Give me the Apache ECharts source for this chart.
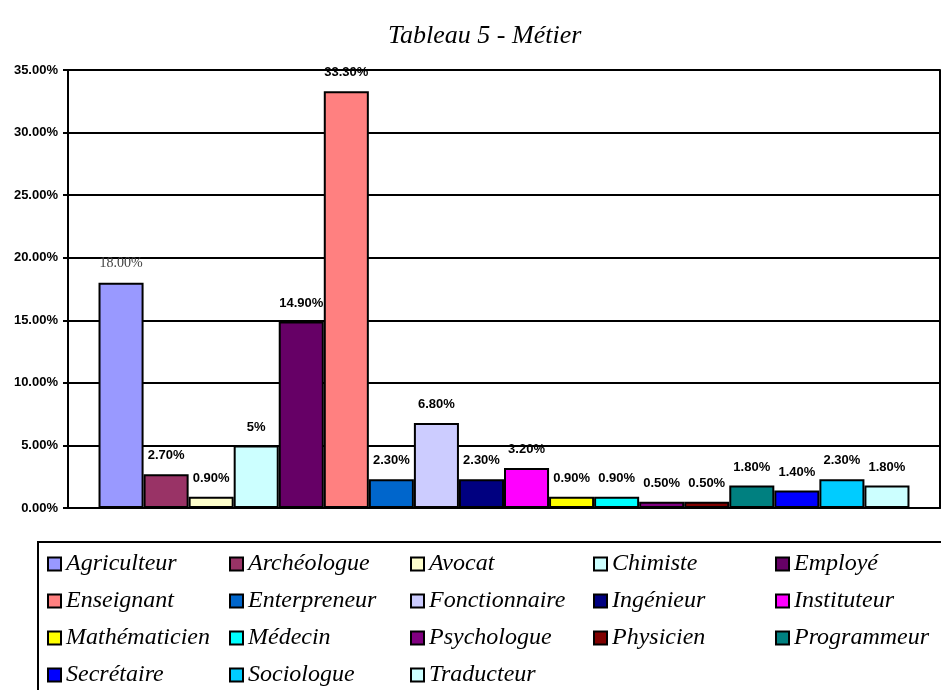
<!DOCTYPE html>
<html>
<head>
<meta charset="utf-8">
<script src="https://cdn.jsdelivr.net/npm/echarts@6/dist/echarts.min.js"></script>
<style>
html, body { margin: 0; padding: 0; background: #fff; }
#chart { width: 941px; height: 690px; }
</style>
</head>
<body>
<div id="chart"></div>
<script>
var chart = echarts.init(document.getElementById('chart'));

// métiers, valeurs en %, étiquettes affichées
var metiers = ['Agriculteur', 'Archéologue', 'Avocat', 'Chimiste', 'Employé',
    'Enseignant', 'Enterpreneur', 'Fonctionnaire', 'Ingénieur', 'Instituteur',
    'Mathématicien', 'Médecin', 'Psychologue', 'Physicien', 'Programmeur',
    'Secrétaire', 'Sociologue', 'Traducteur'];
var valeurs = [18.0, 2.7, 0.9, 5.0, 14.9, 33.3, 2.3, 6.8, 2.3, 3.2,
    0.9, 0.9, 0.5, 0.5, 1.8, 1.4, 2.3, 1.8];
var etiquettes = ['18.00%', '2.70%', '0.90%', '5%', '14.90%', '33.30%', '2.30%',
    '6.80%', '2.30%', '3.20%', '0.90%', '0.90%', '0.50%', '0.50%', '1.80%',
    '1.40%', '2.30%', '1.80%'];
var couleurs = ['#9999FF', '#993366', '#FFFFCC', '#CCFFFF', '#660066',
    '#FF8080', '#0066CC', '#CCCCFF', '#000080', '#FF00FF',
    '#FFFF00', '#00FFFF', '#800080', '#800000', '#008080',
    '#0000FF', '#00CCFF', '#CCFFFF'];
var yTicks = { min: 0, max: 35, interval: 5 };

var series = [];
for (var i = 0; i < metiers.length; i++) {
    var lbl = {
        show: true,
        position: 'top',
        distance: 12,
        formatter: etiquettes[i],
        color: '#000',
        fontFamily: 'Liberation Sans',
        fontWeight: 'bold',
        fontSize: 13
    };
    if (i === 0) {
        lbl.fontFamily = 'Liberation Serif';
        lbl.fontWeight = 'normal';
        lbl.color = '#444';
        lbl.fontSize = 14;
    }
    series.push({
        name: metiers[i],
        type: 'bar',
        data: [valeurs[i]],
        barGap: '0%',
        barCategoryGap: '7%',
        itemStyle: {
            color: couleurs[i],
            borderColor: '#000',
            borderWidth: 2
        },
        label: lbl
    });
}

// légende en 5 colonnes
var colX = [47, 229, 410, 593, 775];
var legends = [];
for (var c = 0; c < 5; c++) {
    var items = [];
    for (var k = c; k < metiers.length; k += 5) items.push(metiers[k]);
    legends.push({
        type: 'plain',
        data: items,
        orient: 'vertical',
        left: colX[c],
        top: 552,
        height: 200,
        padding: 0,
        icon: 'rect',
        itemWidth: 13,
        itemHeight: 13,
        itemGap: 13,
        selectedMode: false,
        itemStyle: { borderColor: '#000', borderWidth: 2 },
        textStyle: {
            fontFamily: 'Liberation Serif',
            fontStyle: 'italic',
            fontSize: 24,
            lineHeight: 24,
            color: '#000'
        }
    });
}

var option = {
    backgroundColor: '#fff',
    animation: false,
    title: {
        text: 'Tableau 5 - Métier',
        left: 383,
        top: 18,
        textStyle: {
            fontFamily: 'Liberation Serif',
            fontStyle: 'italic',
            fontWeight: 'normal',
            fontSize: 26,
            color: '#000'
        }
    },
    grid: { left: 68, right: 1, top: 70, bottom: 182 },
    legend: legends,
    xAxis: {
        type: 'category',
        data: [''],
        axisLine: { lineStyle: { color: '#000', width: 2 } },
        axisTick: { show: false },
        axisLabel: { show: false }
    },
    yAxis: [{
        type: 'value',
        min: yTicks.min,
        max: yTicks.max,
        interval: yTicks.interval,
        axisLine: { show: true, lineStyle: { color: '#000', width: 2 } },
        axisTick: { show: true, length: 5, lineStyle: { color: '#000', width: 2 } },
        axisLabel: {
            formatter: function (v) { return v.toFixed(2) + '%'; },
            fontFamily: 'Liberation Sans',
            fontWeight: 'bold',
            fontSize: 13,
            color: '#000',
            margin: 10
        },
        splitLine: { lineStyle: { color: '#000', width: 2 } }
    }, {
        type: 'value',
        position: 'right',
        min: yTicks.min,
        max: yTicks.max,
        interval: yTicks.interval,
        axisLine: { show: true, lineStyle: { color: '#000', width: 2 } },
        axisTick: { show: false },
        axisLabel: { show: false },
        splitLine: { show: false }
    }],
    graphic: [{
        type: 'rect',
        shape: { x: 38, y: 542, width: 940, height: 200 },
        style: { fill: 'none', stroke: '#000', lineWidth: 2 },
        z: -1
    }],
    series: series
};

chart.setOption(option);
</script>
</body>
</html>
